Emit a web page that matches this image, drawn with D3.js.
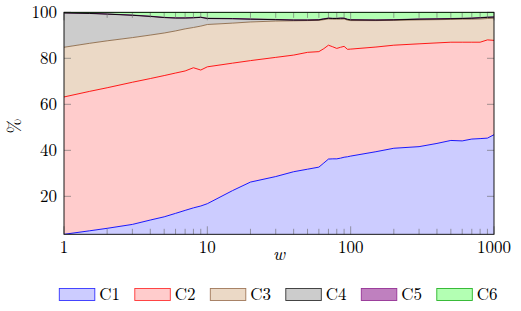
<!DOCTYPE html>
<html>
<head>
<meta charset="utf-8">
<script src="https://cdn.jsdelivr.net/npm/d3@7"></script>
<style>
  body { margin: 0; background: #fff; }
</style>
</head>
<body>
<div id="chart"></div>
<script>
// values (percent of total at each w)
const wValues = [1, 1.5, 2, 3, 4, 5, 6, 7, 8, 9, 10, 15, 20, 30, 40, 50, 60, 65, 70, 75,
    80, 85, 90, 95, 100, 150, 200, 300, 400, 500, 600, 700, 800, 900, 1000];
const c1 = [3.5, 5.0, 6.1, 7.8, 9.7, 11.1, 12.6, 13.9, 15.0, 15.8, 16.8, 22.5, 26.2, 28.6, 30.7, 31.8, 32.7, 34.5, 36.2, 36.3,
    36.3, 36.6, 37.0, 37.2, 37.5, 39.4, 40.9, 41.6, 43.0, 44.3, 44.1, 44.9, 45.1, 45.3, 46.8];
const c2 = [59.7, 60.6, 61.1, 61.8, 61.5, 61.4, 61.0, 60.6, 60.9, 59.1, 59.5, 55.4, 52.8, 51.8, 50.7, 50.8, 50.2, 49.7, 49.5, 48.7,
    48.0, 48.2, 48.2, 46.7, 46.5, 45.5, 44.8, 44.7, 43.7, 42.7, 42.9, 42.1, 41.9, 42.7, 41.0];
const c3 = [21.6, 20.9, 20.4, 19.4, 18.9, 18.5, 18.3, 18.3, 17.5, 19.1, 18.4, 17.4, 16.8, 15.8, 14.9, 13.8, 13.6, 12.6, 11.4, 12.0,
    12.7, 12.2, 11.9, 12.7, 12.4, 11.5, 10.8, 10.4, 10.1, 9.9, 10.0, 10.0, 10.1, 9.3, 9.6];
const c4 = [14.9, 13.0, 11.6, 9.7, 8.1, 6.7, 5.6, 4.7, 4.2, 3.8, 2.6, 1.9, 1.2, 0.6, 0.3, 0.2, 0.2, 0.3, 0.3, 0.3,
    0.3, 0.4, 0.3, 0.3, 0.3, 0.2, 0.2, 0.3, 0.3, 0.3, 0.3, 0.4, 0.5, 0.5, 0.5];
const c5 = [0.1, 0.1, 0.1, 0.1, 0.1, 0.1, 0.1, 0.1, 0.1, 0.1, 0.1, 0.1, 0.1, 0.1, 0.1, 0.1, 0.1, 0.1, 0.1, 0.1,
    0.1, 0.1, 0.1, 0.1, 0.1, 0.1, 0.1, 0.1, 0.1, 0.1, 0.1, 0.1, 0.1, 0.1, 0.1];
const c6 = [0.2, 0.4, 0.7, 1.2, 1.7, 2.2, 2.4, 2.4, 2.3, 2.1, 2.6, 2.7, 2.9, 3.1, 3.3, 3.3, 3.2, 2.8, 2.5, 2.6,
    2.6, 2.5, 2.5, 3.0, 3.2, 3.3, 3.2, 2.9, 2.8, 2.7, 2.6, 2.5, 2.3, 2.1, 2.0];

const seriesNames = ["C1", "C2", "C3", "C4", "C5", "C6"];
const seriesValues = [c1, c2, c3, c4, c5, c6];
const xMajorTicks = [1, 10, 100, 1000];
const yTicks = [20, 40, 60, 80, 100];

const fills = ["#ccccff", "#ffcccc", "#ebd9c6", "#cccccc", "#bf80bf", "#b3ffb3"];
const lines = ["#0000ff", "#ff0000", "#8c6a48", "#000000", "#800080", "#00a000"];
const legendLines = ["#3333ff", "#ff3333", "#a0785a", "#333333", "#963296", "#28b428"];

const width = 521, height = 311;
const plotL = 64, plotR = 494, plotT = 12.3, plotB = 234.3;
const serif = "'Latin Modern Roman', 'CMU Serif', 'Liberation Serif', Tinos, 'Times New Roman', Times, 'DejaVu Serif', 'Noto Serif', FreeSerif, 'Nimbus Roman', serif";

const rows = wValues.map((w, i) => {
    let r = {w: w};
    seriesNames.forEach((n, k) => r[n] = seriesValues[k][i]);
    return r;
});
const stacked = d3.stack().keys(seriesNames)(rows);

const svg = d3.select("#chart").append("svg")
    .attr("width", width)
    .attr("height", height)
    .style("font-family", serif);

const x = d3.scaleLog().domain([1, 1000]).range([plotL, plotR]);
const y = d3.scaleLinear().domain([3.5, 100]).range([plotB, plotT]);

svg.append("clipPath").attr("id", "plotclip")
    .append("rect")
    .attr("x", plotL).attr("y", plotT)
    .attr("width", plotR - plotL).attr("height", plotB - plotT);

const plot = svg.append("g").attr("clip-path", "url(#plotclip)");

const area = d3.area()
    .x(d => x(d.data.w))
    .y0(d => y(d[0]))
    .y1(d => y(d[1]));

const topLine = d3.line()
    .x(d => x(d.data.w))
    .y(d => y(d[1]));

plot.selectAll(".layer")
    .data(stacked)
    .join("path")
    .attr("class", "layer")
    .attr("d", area)
    .attr("fill", (d, i) => fills[i]);

// outline order keeps the black C4 line above the thin purple one
[0, 1, 2, 4, 3, 5].forEach(i => {
    plot.append("path")
        .attr("d", topLine(stacked[i]))
        .attr("fill", "none")
        .attr("stroke", lines[i])
        .attr("stroke-width", 0.9);
});

// ticks
const minor = [];
[1, 10, 100].forEach(dec => {
    for (let k = 2; k <= 9; k++) minor.push(dec * k);
});
const tickG = svg.append("g")
    .attr("stroke", "#666")
    .attr("stroke-width", 0.6);

minor.forEach(v => {
    tickG.append("line").attr("x1", x(v)).attr("x2", x(v)).attr("y1", plotB).attr("y2", plotB - 5.5);
    tickG.append("line").attr("x1", x(v)).attr("x2", x(v)).attr("y1", plotT).attr("y2", plotT + 5.5);
});
xMajorTicks.forEach(v => {
    tickG.append("line").attr("x1", x(v)).attr("x2", x(v)).attr("y1", plotB).attr("y2", plotB - 8);
    tickG.append("line").attr("x1", x(v)).attr("x2", x(v)).attr("y1", plotT).attr("y2", plotT + 8);
});
yTicks.forEach(v => {
    tickG.append("line").attr("x1", plotL).attr("x2", plotL + 7).attr("y1", y(v)).attr("y2", y(v));
    tickG.append("line").attr("x1", plotR).attr("x2", plotR - 7).attr("y1", y(v)).attr("y2", y(v));
});

// frame
svg.append("rect")
    .attr("x", plotL).attr("y", plotT)
    .attr("width", plotR - plotL).attr("height", plotB - plotT)
    .attr("fill", "none")
    .attr("stroke", "#000")
    .attr("stroke-width", 0.9);

// tick labels
svg.selectAll(".xlab")
    .data(xMajorTicks)
    .join("text")
    .attr("class", "xlab")
    .attr("x", d => x(d))
    .attr("y", 253)
    .attr("text-anchor", "middle")
    .attr("font-size", 17)
    .text(d => d);

svg.selectAll(".ylab")
    .data(yTicks)
    .join("text")
    .attr("class", "ylab")
    .attr("x", 57)
    .attr("y", d => y(d) + 5.5)
    .attr("text-anchor", "end")
    .attr("font-size", 17)
    .text(d => d);

// axis labels
svg.append("text")
    .attr("x", 279).attr("y", 260)
    .attr("text-anchor", "middle")
    .attr("font-size", 18)
    .attr("font-style", "italic")
    .text("w");

svg.append("text")
    .attr("transform", "translate(20,126) rotate(-90)")
    .attr("text-anchor", "middle")
    .attr("font-size", 18)
    .text("%");

// legend
const legend = svg.append("g");
seriesNames.forEach((n, i) => {
    const lx = 59.3 + i * 75.5;
    legend.append("rect")
        .attr("x", lx).attr("y", 288.5)
        .attr("width", 35.5).attr("height", 12)
        .attr("fill", fills[i])
        .attr("stroke", legendLines[i])
        .attr("stroke-width", 0.9);
    legend.append("text")
        .attr("x", lx + 40).attr("y", 299.5)
        .attr("font-size", 17)
        .text(n);
});
</script>
</body>
</html>
